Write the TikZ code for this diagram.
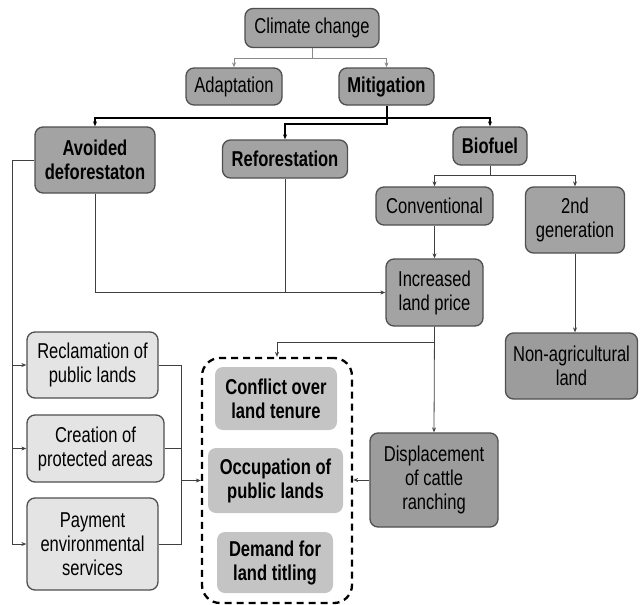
\documentclass[tikz,border=0pt]{standalone}
\usepackage{fontspec}
\setmainfont{Liberation Sans}[FakeStretch=0.77]
\usetikzlibrary{arrows.meta}

\definecolor{boxline}{HTML}{4F4F4F}
\definecolor{darkfill}{HTML}{A3A3A3}
\definecolor{deepfill}{HTML}{9C9C9C}
\definecolor{lightfill}{HTML}{E4E4E4}
\definecolor{innerfill}{HTML}{C4C4C4}
\definecolor{wire}{HTML}{404040}
\definecolor{softwire}{HTML}{8A8A8A}

\begin{document}
\begin{tikzpicture}[x=1pt,y=-1pt,
  txt/.style={font=\fontsize{21.5}{24}\selectfont},
  heavy/.style={font=\fontsize{21.5}{24}\selectfont\bfseries},
  box/.style={rounded corners=8pt, draw=boxline, line width=1.3pt,
    align=center, inner sep=0pt, txt},
  darkbox/.style={box, fill=darkfill},
  deepbox/.style={box, fill=deepfill},
  lightbox/.style={box, fill=lightfill},
  innerbox/.style={rounded corners=8pt, fill=innerfill, align=center,
    inner sep=0pt, heavy},
  tip/.style={-{Stealth[length=5pt,width=4pt]}},
  link/.style={draw=wire, line width=0.8pt},
  softlink/.style={draw=softwire, line width=0.9pt},
  mainlink/.style={draw=black, line width=2pt},
  group/.style={draw=black, line width=2.3pt, dash pattern=on 7pt off 5pt,
    rounded corners=18pt},
]
\useasboundingbox (0,0) rectangle (640,605);

% top of the hierarchy
\node[darkbox, minimum width=134pt, minimum height=39pt] (cc) at (312,28) {Climate change};
\node[darkbox, minimum width=96pt, minimum height=37pt] (adapt) at (234,86.5) {Adaptation};
\node[darkbox, heavy, minimum width=95pt, minimum height=37pt] (mitig) at (386.5,86.5) {Mitigation};

% mitigation options
\node[darkbox, heavy, minimum width=120pt, minimum height=66pt] (avoid) at (95,160) {Avoided\\deforestaton};
\node[darkbox, heavy, minimum width=125pt, minimum height=38pt] (refor) at (285,159) {Reforestation};
\node[darkbox, heavy, minimum width=74pt, minimum height=38pt] (biof) at (490,146) {Biofuel};

% biofuel branches
\node[darkbox, minimum width=117pt, minimum height=38pt] (conv) at (434.5,206) {Conventional};
\node[darkbox, minimum width=99pt, minimum height=66pt] (second) at (575,220) {2nd\\generation};
\node[darkbox, minimum width=97pt, minimum height=67pt] (price) at (434.5,292.5) {Increased\\land price};
\node[deepbox, minimum width=132pt, minimum height=66pt] (nonag) at (571.5,366) {Non-agricultural\\land};
\node[deepbox, minimum width=128pt, minimum height=94pt] (displ) at (434,480) {Displacement\\of cattle\\ranching};

% policy instruments
\node[lightbox, minimum width=131pt, minimum height=66pt] (reclam) at (92.5,365) {Reclamation of\\public lands};
\node[lightbox, minimum width=137pt, minimum height=67pt] (creat) at (95.5,448.5) {Creation of\\protected areas};
\node[lightbox, minimum width=131pt, minimum height=92pt] (pay) at (92.5,544) {Payment\\environmental\\services};

% land tenure outcomes
\node[group, minimum width=150pt, minimum height=245pt] (grp) at (277,480.5) {};
\node[innerbox, minimum width=122pt, minimum height=63pt] (confl) at (276,398.5) {Conflict over\\land tenure};
\node[innerbox, minimum width=135pt, minimum height=65pt] (occup) at (275.5,480.5) {Occupation of\\public lands};
\node[innerbox, minimum width=116pt, minimum height=61pt] (demand) at (275,562.5) {Demand for\\land titling};

% climate change -> adaptation / mitigation
\draw[softlink, tip] (cc.south) -- ++(0,10) -| (adapt.north);
\draw[softlink, tip] (cc.south) -- ++(0,10) -| (mitig.north);

% mitigation -> options
\draw[mainlink, tip] (mitig.south) -- ++(0,12) -| (avoid.north);
\draw[mainlink, tip] (mitig.south) -- ++(0,12) -| (biof.north);
\draw[mainlink, tip] (mitig.south) -- ++(0,18) -| (refor.north);

% biofuel -> conventional / 2nd generation
\draw[link, tip] (biof.south) -- ++(0,10) -| (conv.north);
\draw[link, tip] (biof.south) -- ++(0,10) -| (second.north);

% pressure on land prices
\draw[link, tip] (conv.south) -- (price.north);
\draw[link, tip] (avoid.south) |- (price.west);
\draw[link] (refor.south) -- (refor.south |- price.west);
\draw[link, tip] (second.south) -- (second.south |- nonag.north);

% avoided deforestation -> instruments
\coordinate (spine) at (12,160);
\draw[link] (avoid.west) -- (spine);
\draw[link, tip] (spine) |- (reclam.west);
\draw[link, tip] (spine) |- (creat.west);
\draw[link, tip] (spine) |- (pay.west);

% instruments -> land tenure outcomes
\coordinate (mrg) at (181,480.5);
\draw[link] (reclam.east) -| (mrg);
\draw[link] (pay.east) -| (mrg);
\draw[link, tip] (creat.east) -| (mrg) -- (grp.west);

% land price -> outcomes and cattle displacement
\draw[link, tip] (price.south) -- ++(0,16) -| (grp.north);
\draw[link, tip] (price.south) -- (displ.north);
\draw[link, tip] (displ.west) -- (displ.west -| grp.east);
\end{tikzpicture}
\end{document}
